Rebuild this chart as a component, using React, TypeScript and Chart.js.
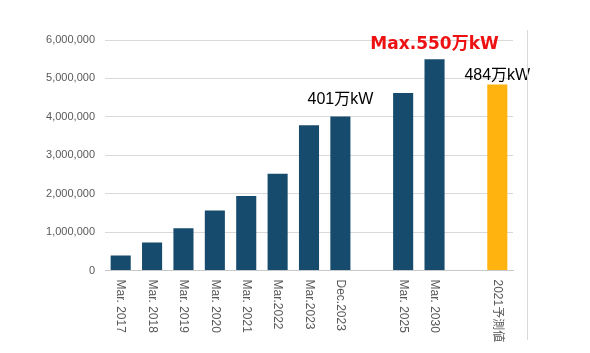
import React, { useEffect, useRef } from "react";
import { Chart, registerables } from "chart.js";

Chart.register(...registerables);

const categories = [
  "Mar. 2017",
  "Mar. 2018",
  "Mar. 2019",
  "Mar. 2020",
  "Mar. 2021",
  "Mar.2022",
  "Mar.2023",
  "Dec.2023",
  "",
  "Mar. 2025",
  "Mar. 2030",
  "",
  "2021予測値",
];

const values = [
  390000, 730000, 1100000, 1560000, 1940000, 2520000, 3780000, 4010000, null,
  4620000, 5500000, null, 4840000,
];

const barColors = [
  "#174B6E", "#174B6E", "#174B6E", "#174B6E", "#174B6E", "#174B6E", "#174B6E",
  "#174B6E", "#174B6E", "#174B6E", "#174B6E", "#174B6E", "#FFB30F",
];

const yTicks = [0, 1000000, 2000000, 3000000, 4000000, 5000000, 6000000];

const annotationIndex = [7, 10, 12];
const annotationText = ["401万kW", "Max.550万kW", "484万kW"];

const annotationStyle = [
  { color: "#000000", font: '16px "Liberation Sans", "Noto Sans CJK JP", sans-serif', offset: 17 },
  { color: "#EE1111", font: 'bold 17px "DejaVu Sans", "Noto Sans CJK JP", sans-serif', offset: 15 },
  { color: "#000000", font: '16px "Liberation Sans", "Noto Sans CJK JP", sans-serif', offset: 9 },
];

const fmt = (v: number) => v.toLocaleString("en-US");

export default function App() {
  const ref = useRef<HTMLCanvasElement | null>(null);

  useEffect(() => {
    if (!ref.current) return;
    const customPlugin = {
      id: "custom",
      afterDraw(chart: any) {
        const ctx = chart.ctx;
        const xs = chart.scales.x;
        const ys = chart.scales.y;
        ctx.save();
        ctx.fillStyle = "#595959";
        ctx.font = '12px "Liberation Sans", "Noto Sans CJK JP", sans-serif';
        ctx.textAlign = "left";
        ctx.textBaseline = "middle";
        categories.forEach((c, i) => {
          if (!c) return;
          const x = xs.getPixelForValue(i);
          ctx.save();
          ctx.translate(x, chart.chartArea.bottom + 9);
          ctx.rotate(Math.PI / 2);
          ctx.fillText(c, 0, 0);
          ctx.restore();
        });
        ctx.textAlign = "center";
        ctx.textBaseline = "middle";
        annotationIndex.forEach((idx, k) => {
          const st = annotationStyle[k];
          const v = values[idx] as number;
          ctx.font = st.font;
          ctx.fillStyle = st.color;
          ctx.fillText(
            annotationText[k],
            xs.getPixelForValue(idx),
            ys.getPixelForValue(v) - st.offset
          );
        });
        ctx.strokeStyle = "#d9d9d9";
        ctx.lineWidth = 1;
        ctx.beginPath();
        ctx.moveTo(527.5, 30);
        ctx.lineTo(527.5, 340);
        ctx.stroke();
        ctx.restore();
      },
    };

    const chart = new Chart(ref.current, {
      type: "bar",
      data: {
        labels: categories,
        datasets: [
          {
            data: values as any,
            backgroundColor: barColors,
            barPercentage: 0.64,
            categoryPercentage: 1,
          },
        ],
      },
      options: {
        responsive: false,
        animation: false,
        layout: { padding: { left: 0, right: 77, top: 40, bottom: 0 } },
        plugins: {
          legend: { display: false },
          tooltip: { enabled: false },
        },
        scales: {
          x: {
            grid: { display: false, drawTicks: false },
            border: { display: true, color: "#c8c8c8", width: 1 },
            ticks: { display: false },
            afterFit(scale: any) {
              scale.height = 82.5;
            },
          },
          y: {
            min: 0,
            max: 6000000,
            afterBuildTicks(scale: any) {
              scale.ticks = yTicks.map((v) => ({ value: v }));
            },
            grid: { color: "#d9d9d9", drawTicks: false },
            border: { display: false },
            ticks: {
              color: "#595959",
              padding: 10,
              font: { family: '"Liberation Sans", Arial, sans-serif', size: 11 },
              callback: (v: any) => fmt(Number(v)),
            },
            afterFit(scale: any) {
              scale.width = 105;
            },
          },
        },
      },
      plugins: [customPlugin],
    });
    return () => chart.destroy();
  }, []);

  return (
    <div style={{ position: "fixed", left: 0, top: 0, width: 590, height: 353, background: "#fff" }}>
      <canvas ref={ref} width={590} height={353} style={{ width: 590, height: 353 }} />
    </div>
  );
}
